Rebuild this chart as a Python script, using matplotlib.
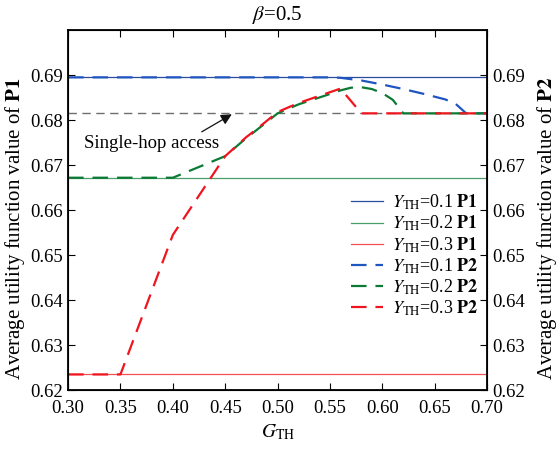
import numpy as np
import matplotlib
matplotlib.use('Agg')
import matplotlib.pyplot as plt

plt.rcParams['font.family'] = ['Liberation Serif', 'DejaVu Serif']
plt.rcParams['mathtext.fontset'] = 'stix'
plt.rcParams['font.size'] = 13.5

# constant utility of P1 for each Y_TH
p1_levels = [0.6895, 0.6672, 0.6235]
single_hop = 0.6815

# P2 curves, one set of breakpoints per Y_TH
g_p2_01 = [0.30, 0.55, 0.56, 0.58, 0.60, 0.62, 0.64, 0.66, 0.67, 0.68, 0.70]
u_p2_01 = [0.6895, 0.6895, 0.6894, 0.6888, 0.6879, 0.6869, 0.6858, 0.6846, 0.6836, 0.6815, 0.6815]

g_p2_02 = [0.30, 0.40, 0.45, 0.47, 0.48, 0.50, 0.52, 0.55, 0.56, 0.57, 0.58, 0.59, 0.60, 0.61, 0.62, 0.70]
u_p2_02 = [0.6672, 0.6672, 0.6720, 0.6760, 0.6778, 0.6815, 0.6835, 0.6858, 0.6866, 0.6872, 0.6873, 0.6869, 0.6860, 0.6845, 0.6815, 0.6815]

g_p2_03 = [0.30, 0.35, 0.40, 0.45, 0.47, 0.48, 0.50, 0.52, 0.55, 0.56, 0.58, 0.70]
u_p2_03 = [0.6235, 0.6235, 0.6545, 0.6720, 0.6762, 0.6780, 0.6818, 0.6838, 0.6862, 0.6870, 0.6815, 0.6815]

labels_yth = ['0.1', '0.2', '0.3']
c_p1 = ['#2a4a9e', '#4a9e6a', '#f25055']
c_p2 = ['#1f55c0', '#0b7a35', '#f0141e']

fig = plt.figure(figsize=(5.58, 4.49), dpi=100)
ax = fig.add_axes([0.122, 0.131, 0.751, 0.802])

ax.axhline(single_hop, color='#6e6e6e', lw=1.0, ls=(0, (6, 4)))

for lvl, c, lab in zip(p1_levels, c_p1, labels_yth):
    ax.plot([0.30, 0.70], [lvl, lvl], color=c, lw=0.9,
            label=r'$Y_{\rm TH}$=' + lab + r' $\mathbf{P1}$')

for g, u, c, lab in zip([g_p2_01, g_p2_02, g_p2_03], [u_p2_01, u_p2_02, u_p2_03], c_p2, labels_yth):
    ax.plot(g, u, color=c, lw=1.6, ls=(0, (7, 4)),
            label=r'$Y_{\rm TH}$=' + lab + r' $\mathbf{P2}$')

xt = np.arange(0.30, 0.701, 0.05)
yt = np.arange(0.62, 0.691, 0.01)
ax.set_xlim(0.30, 0.70)
ax.set_ylim(0.62, 0.70)
ax.set_xticks(xt)
ax.set_xticklabels(['%.2f' % t for t in xt])
ax.set_yticks(yt)
ax.set_yticklabels(['%.2f' % t for t in yt])
ax.tick_params(direction='in', top=True, length=5, width=0.8, labelsize=13.5)
ax.tick_params(axis='x', pad=7)
ax.tick_params(axis='y', pad=4)
ax.set_xlabel(r'$G_{\rm TH}$', fontsize=14, labelpad=4)
ax.set_ylabel(r'Average utility function value of $\mathbf{P1}$', fontsize=15)
ax.yaxis.set_label_coords(-0.098, 0.45)
ax.set_title(r'$\beta$=0.5', fontsize=15, pad=7)
for sp in ax.spines.values():
    sp.set_linewidth(1.3)

ax2 = ax.twinx()
ax2.set_ylim(0.62, 0.70)
ax2.set_yticks(yt)
ax2.set_yticklabels(['%.2f' % t for t in yt])
ax2.tick_params(direction='in', length=5, width=0.8, pad=4, labelsize=13.5)
ax2.set_ylabel(r'Average utility function value of $\mathbf{P2}$', fontsize=15, rotation=90)
ax2.yaxis.set_label_coords(1.115, 0.45)

ax.text(0.3797, 0.6749, 'Single-hop access', ha='center', va='center', fontsize=13.5)
ax.annotate('', xy=(0.4563, 0.6813), xytext=(0.4276, 0.6774),
            arrowprops=dict(arrowstyle='-|>', color='#111111', lw=0.9, mutation_scale=16,
                            shrinkA=0, shrinkB=0))

ax.legend(loc='lower right', bbox_to_anchor=(0.98, 0.2), frameon=False,
          handlelength=1.8, labelspacing=0.1, handletextpad=0.5,
          borderaxespad=0, borderpad=0, fontsize=13)

fig.savefig('out.png', dpi=100)
